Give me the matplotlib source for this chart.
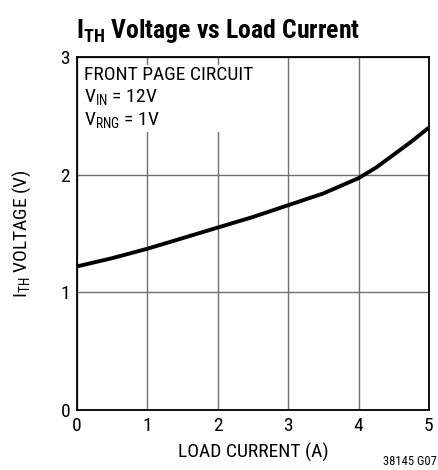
import matplotlib
matplotlib.use("Agg")
import matplotlib.pyplot as plt

fam = "Roboto Condensed"
plt.rcParams['font.family'] = [fam, 'DejaVu Sans']
plt.rcParams['mathtext.fontset'] = 'custom'
plt.rcParams['mathtext.rm'] = fam
plt.rcParams['mathtext.it'] = fam
plt.rcParams['mathtext.bf'] = fam + ':bold'

current = [0.0, 0.5, 1.0, 1.5, 2.0, 2.5, 3.0, 3.5, 4.0, 4.25, 4.5, 4.75, 5.0]
voltage = [1.22, 1.29, 1.37, 1.46, 1.55, 1.64, 1.74, 1.84, 1.97, 2.06, 2.17, 2.28, 2.40]
xticks = [0, 1, 2, 3, 4, 5]
yticks = [0, 1, 2, 3]

fig = plt.figure(figsize=(4.39, 4.70), dpi=100)
ax = fig.add_axes([0.1754, 0.1278, 0.8016, 0.7510])
ax.plot(current, voltage, color='black', lw=2.8, solid_capstyle='butt', zorder=3)
ax.set_xlim(0, 5)
ax.set_ylim(0, 3)
ax.set_xticks(xticks)
ax.set_yticks(yticks)
ax.grid(True, color='#707070', lw=1.0)
ax.tick_params(length=0, labelsize=14, pad=5)
for s in ax.spines.values():
    s.set_linewidth(1.3)
ax.set_xlabel('LOAD CURRENT (A)', fontsize=14, labelpad=6)
ax.set_ylabel(r'I$_{\mathregular{TH}}$ VOLTAGE (V)', fontsize=14, labelpad=20)

ax.text(0.02, 0.975, 'FRONT PAGE CIRCUIT\n' + r'V$_{\mathregular{IN}}$ = 12V' + '\n' + r'V$_{\mathregular{RNG}}$ = 1V',
        transform=ax.transAxes, va='top', ha='left', fontsize=14, linespacing=1.2,
        bbox=dict(facecolor='white', edgecolor='none', pad=1.5), zorder=4)

fig.text(0.172, 0.935, r'I$_{\mathregular{TH}}$ Voltage vs Load Current', fontsize=18.5,
         fontweight='bold', ha='left', va='center')
fig.text(0.995, 0.004, '38145 G07', fontsize=9, ha='right', va='bottom')

fig.savefig('out.png', dpi=100)
